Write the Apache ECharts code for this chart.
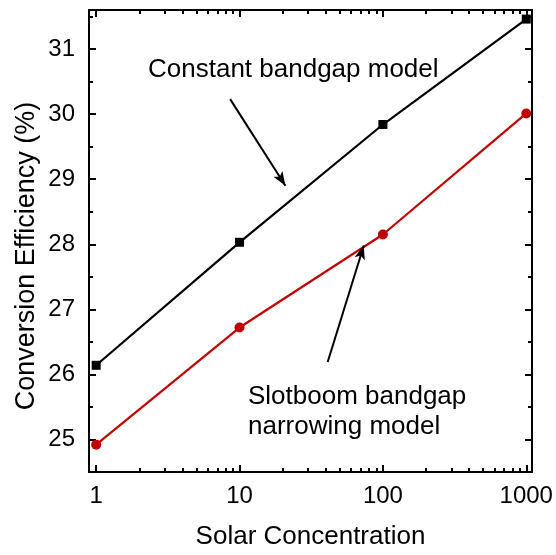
<!DOCTYPE html>
<html>
<head>
<meta charset="utf-8">
<script src="https://cdn.jsdelivr.net/npm/echarts@6/dist/echarts.min.js"></script>
<style>
html,body{margin:0;padding:0;background:#fff;}
#chart{width:556px;height:555px;}
</style>
</head>
<body>
<div id="chart"></div>
<script>
// ---- data ----
const solarConcentration = [1, 10, 100, 1000];
const constantBandgap = [26.14, 28.03, 29.84, 31.46];
const slotboomBandgap = [24.92, 26.72, 28.15, 30.01];
const xMajorTicks = [1, 10, 100, 1000];
const xMinorTicks = [2,3,4,5,6,7,8,9,20,30,40,50,60,70,80,90,200,300,400,500,600,700,800,900];
const yMajorTicks = [25, 26, 27, 28, 29, 30, 31];
const yMinorTicks = [24.5, 25.5, 26.5, 27.5, 28.5, 29.5, 30.5, 31.5];
const arrowConstant = [[8.6, 30.23], [20.9, 28.9]];
const arrowSlotboom = [[41.2, 26.19], [73.6, 27.98]];

const FONT = '"Liberation Sans", Arial, sans-serif';
const lg = v => Math.log10(v);

const chart = echarts.init(document.getElementById('chart'), null, {renderer: 'canvas'});

function xAx(pos, ticks, len, showLine, showLabel) {
  return {
    type: 'value', position: pos, min: -0.05, max: 3.04,
    splitLine: {show: false},
    axisLine: {show: showLine, onZero: false, lineStyle: {color: '#000', width: 2}},
    axisTick: {show: true, inside: true, length: len, customValues: ticks.map(lg), lineStyle: {color: '#000', width: 2}},
    axisLabel: {show: showLabel, customValues: xMajorTicks.map(lg), formatter: v => String(Math.round(Math.pow(10, v))),
      color: '#000', fontFamily: FONT, fontSize: 24, margin: 12},
    name: showLabel ? 'Solar Concentration' : '', nameLocation: 'middle', nameGap: 52,
    nameTextStyle: {color: '#000', fontFamily: FONT, fontSize: 26}
  };
}
function yAx(pos, ticks, len, showLine, showLabel) {
  return {
    type: 'value', position: pos, min: 24.5, max: 31.6,
    splitLine: {show: false},
    axisLine: {show: showLine, onZero: false, lineStyle: {color: '#000', width: 2}},
    axisTick: {show: true, inside: true, length: len, customValues: ticks, lineStyle: {color: '#000', width: 2}},
    axisLabel: {show: showLabel, customValues: yMajorTicks, color: '#000', fontFamily: FONT, fontSize: 24, margin: 14}
  };
}

const option = {
  backgroundColor: '#fff',
  animation: false,
  grid: {left: 89, right: 24, top: 10, bottom: 79, containLabel: false},
  xAxis: [
    xAx('bottom', xMajorTicks, 7, true, true),
    xAx('bottom', xMinorTicks, 4, false, false),
    xAx('top', xMajorTicks, 7, true, false),
    xAx('top', xMinorTicks, 4, false, false)
  ],
  yAxis: [
    yAx('left', yMajorTicks, 7, true, true),
    yAx('left', yMinorTicks, 4, false, false),
    yAx('right', yMajorTicks, 7, true, false),
    yAx('right', yMinorTicks, 4, false, false)
  ],
  series: [
    {
      type: 'line', xAxisIndex: 0, yAxisIndex: 0,
      data: solarConcentration.map((x, i) => [lg(x), constantBandgap[i]]),
      symbol: 'rect', symbolSize: 9,
      lineStyle: {color: '#000', width: 2.2}, itemStyle: {color: '#000'},
      markLine: {
        silent: true, symbol: ['none', 'arrow'], symbolSize: [8, 14],
        lineStyle: {color: '#000', width: 2, type: 'solid'}, label: {show: false},
        data: [
          [{coord: [lg(arrowConstant[0][0]), arrowConstant[0][1]]}, {coord: [lg(arrowConstant[1][0]), arrowConstant[1][1]]}],
          [{coord: [lg(arrowSlotboom[0][0]), arrowSlotboom[0][1]]}, {coord: [lg(arrowSlotboom[1][0]), arrowSlotboom[1][1]]}]
        ]
      }
    },
    {
      type: 'line', xAxisIndex: 0, yAxisIndex: 0,
      data: solarConcentration.map((x, i) => [lg(x), slotboomBandgap[i]]),
      symbol: 'circle', symbolSize: 10,
      lineStyle: {color: '#c00000', width: 2.2}, itemStyle: {color: '#c00000'}
    }
  ],
  graphic: [
    {type: 'text', left: 148, top: 57, style: {text: 'Constant bandgap model', font: '26px ' + FONT, fill: '#000'}},
    {type: 'text', left: 248, top: 382, style: {text: 'Slotboom bandgap\nnarrowing model', font: '26px ' + FONT, fill: '#000', lineHeight: 30}},
    {type: 'text', x: 27, y: 256, rotation: Math.PI / 2,
      style: {text: 'Conversion Efficiency (%)', font: '27px ' + FONT, fill: '#000', align: 'center', verticalAlign: 'middle'}}
  ]
};
chart.setOption(option);
</script>
</body>
</html>
